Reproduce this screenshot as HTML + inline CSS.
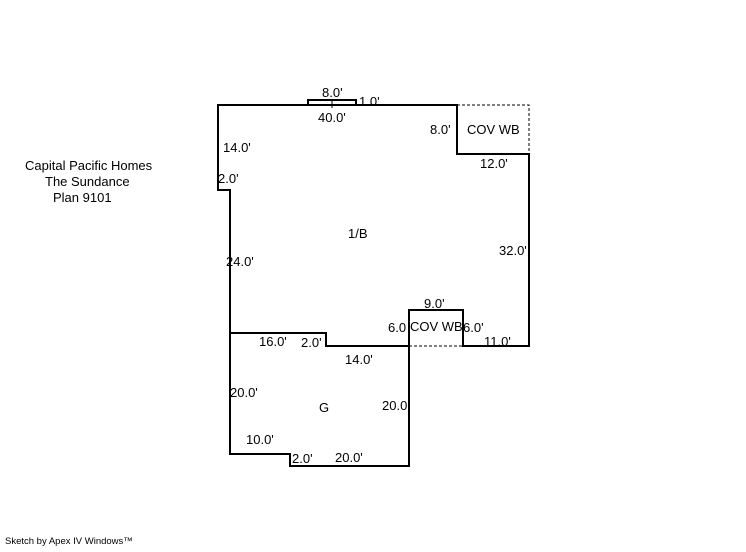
<!DOCTYPE html>
<html><head><style>
body{margin:0;background:#fff;width:746px;height:547px;overflow:hidden}
svg text{font-family:"Liberation Sans",sans-serif;font-size:13px;fill:#000}
</style></head><body>
<svg width="746" height="547" viewBox="0 0 746 547">
<g fill="none" stroke="#000" stroke-width="2">
<polygon points="218,105 457,105 457,154 529,154 529,346 463,346 463,310 409,310 409,466 290,466 290,454 230,454 230,190 218,190"/>
<polyline points="230,333 326,333 326,346 409,346"/>
<polyline points="308,105 308,100 356,100 356,105"/>
</g>
<line x1="332" y1="100" x2="332" y2="108" stroke="#000" stroke-width="1"/>
<g stroke="#000" stroke-width="1" stroke-dasharray="3,2" fill="none">
<polyline points="457,105 529,105 529,154"/>
<line x1="409" y1="346" x2="463" y2="346"/>
</g>
<text x="322" y="97">8.0'</text>
<text x="359" y="106">1.0'</text>
<text x="318" y="122">40.0'</text>
<text x="430" y="134">8.0'</text>
<text x="467" y="134">COV WB</text>
<text x="223" y="152">14.0'</text>
<text x="480" y="168">12.0'</text>
<text x="218" y="183">2.0'</text>
<text x="348" y="238">1/B</text>
<text x="499" y="255">32.0'</text>
<text x="226" y="266">24.0'</text>
<text x="424" y="308">9.0'</text>
<text x="388" y="332">6.0</text>
<text x="410" y="331">COV WB</text>
<text x="463" y="332">6.0'</text>
<text x="484" y="346">11.0'</text>
<text x="259" y="346">16.0'</text>
<text x="301" y="347">2.0'</text>
<text x="345" y="364">14.0'</text>
<text x="230" y="397">20.0'</text>
<text x="319" y="412">G</text>
<text x="382" y="410">20.0</text>
<text x="246" y="444">10.0'</text>
<text x="292" y="463">2.0'</text>
<text x="335" y="462">20.0'</text>
<text x="25" y="170">Capital Pacific Homes</text>
<text x="45" y="186">The Sundance</text>
<text x="53" y="202">Plan 9101</text>
<text x="5" y="544" style="font-size:9.5px">Sketch by Apex IV Windows™</text>
</svg>
</body></html>
